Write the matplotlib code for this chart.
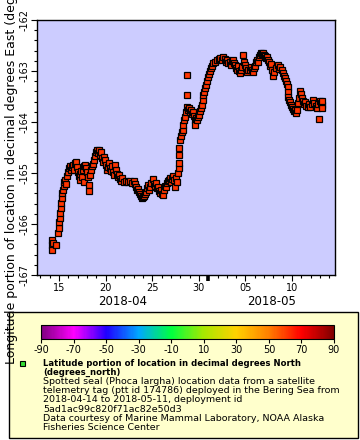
import numpy as np
import pandas as pd
import matplotlib
matplotlib.use('Agg')
import matplotlib.pyplot as plt
import matplotlib.dates as mdates
import matplotlib.transforms as mtransforms
from matplotlib.colors import LinearSegmentedColormap
from matplotlib.patches import Rectangle

plt.rcParams['font.family'] = ['DejaVu Sans']
plt.rcParams['axes.unicode_minus'] = False

# day of April 2018 (15.0 = 2018-04-15 00:00) and longitude (degrees_east)
days = [14.25, 14.25, 14.25, 14.36, 14.68, 14.89, 15.00, 15.00, 15.11, 15.11,
        15.21, 15.21, 15.32, 15.32, 15.43, 15.54, 15.54, 15.64, 15.75, 15.86,
        15.97, 16.07, 16.18, 16.29, 16.39, 16.50, 16.61, 16.72, 16.82, 16.93,
        17.04, 17.15, 17.25, 17.25, 17.36, 17.47, 17.58, 17.68, 17.68, 17.79,
        17.90, 18.00, 18.11, 18.22, 18.22, 18.33, 18.43, 18.54, 18.65, 18.76,
        18.86, 18.97, 19.08, 19.18, 19.29, 19.40, 19.51, 19.61, 19.72, 19.83,
        19.94, 20.04, 20.15, 20.26, 20.36, 20.47, 20.58, 20.69, 20.79, 20.90,
        21.01, 21.12, 21.22, 21.33, 21.44, 21.54, 21.65, 21.76, 21.97, 22.19,
        22.40, 22.62, 22.83, 23.05, 23.15, 23.26, 23.37, 23.48, 23.58, 23.69,
        23.80, 23.91, 24.01, 24.12, 24.23, 24.33, 24.44, 24.55, 24.66, 24.76,
        24.87, 25.09, 25.19, 25.30, 25.41, 25.52, 25.62, 25.73, 25.84, 25.94,
        26.05, 26.16, 26.27, 26.37, 26.48, 26.59, 26.70, 26.80, 26.91, 27.02,
        27.12, 27.23, 27.34, 27.45, 27.55, 27.66, 27.77, 27.88, 27.88, 27.88,
        27.88, 27.98, 28.09, 28.20, 28.30, 28.30, 28.41, 28.52, 28.63, 28.73,
        28.73, 28.73, 28.84, 28.95, 29.06, 29.16, 29.27, 29.38, 29.48, 29.59,
        29.59, 29.70, 29.81, 29.91, 30.02, 30.13, 30.24, 30.34, 30.45, 30.45,
        30.56, 30.67, 30.77, 30.88, 30.99, 31.09, 31.20, 31.31, 31.42, 31.52,
        31.74, 31.95, 32.17, 32.27, 32.49, 32.60, 32.81, 32.92, 33.03, 33.13,
        33.35, 33.45, 33.56, 33.67, 33.77, 33.88, 33.99, 34.10, 34.21, 34.31,
        34.42, 34.53, 34.64, 34.74, 34.85, 34.96, 35.06, 35.17, 35.28, 35.49,
        35.60, 35.71, 35.82, 35.92, 36.03, 36.14, 36.24, 36.35, 36.46, 36.57,
        36.67, 36.78, 36.89, 36.99, 37.10, 37.21, 37.32, 37.42, 37.53, 37.64,
        37.75, 37.85, 37.96, 38.07, 38.28, 38.50, 38.60, 38.71, 38.93, 39.03,
        39.14, 39.25, 39.36, 39.46, 39.57, 39.57, 39.57, 39.68, 39.79, 39.89,
        40.00, 40.11, 40.21, 40.32, 40.43, 40.54, 40.64, 40.75, 40.86, 40.97,
        41.07, 41.18, 41.29, 41.39, 41.50, 41.72, 41.82, 41.93, 42.15, 42.25,
        42.36, 42.57, 42.68, 42.79, 42.90, 43.00, 43.11, 43.22, 43.22, 43.22]

lons = [-166.31, -166.41, -166.51, -166.37, -166.41, -166.18, -166.08, -165.96, -165.88, -165.78,
        -165.69, -165.59, -165.49, -165.39, -165.33, -165.25, -165.18, -165.14, -165.22, -165.06,
        -164.98, -164.90, -164.86, -164.94, -164.88, -164.84, -164.94, -164.80, -164.78, -164.88,
        -164.98, -165.06, -165.14, -165.02, -164.96, -165.08, -164.94, -164.86, -165.18, -164.84,
        -164.90, -164.98, -165.08, -165.24, -165.35, -165.04, -164.94, -164.86, -164.82, -164.75,
        -164.67, -164.59, -164.55, -164.61, -164.55, -164.65, -164.59, -164.71, -164.78, -164.69,
        -164.75, -164.84, -164.94, -164.88, -164.80, -164.90, -164.96, -164.86, -164.98, -165.04,
        -164.84, -164.94, -165.02, -165.08, -165.04, -165.12, -165.16, -165.10, -165.18, -165.16,
        -165.18, -165.16, -165.20, -165.16, -165.22, -165.27, -165.33, -165.31, -165.37, -165.41,
        -165.45, -165.49, -165.47, -165.45, -165.41, -165.37, -165.29, -165.24, -165.33, -165.27,
        -165.20, -165.12, -165.22, -165.25, -165.20, -165.29, -165.27, -165.35, -165.39, -165.33,
        -165.41, -165.43, -165.33, -165.25, -165.27, -165.20, -165.16, -165.14, -165.10, -165.18,
        -165.12, -165.06, -165.14, -165.27, -165.10, -165.18, -165.00, -164.90, -164.80, -164.65,
        -164.51, -164.35, -164.27, -164.20, -164.16, -164.06, -163.96, -163.90, -163.80, -163.71,
        -163.08, -163.47, -163.76, -163.73, -163.80, -163.76, -163.84, -163.80, -163.88, -163.96,
        -164.06, -163.92, -163.96, -163.90, -163.86, -163.78, -163.73, -163.67, -163.57, -163.47,
        -163.41, -163.33, -163.27, -163.20, -163.12, -163.06, -163.00, -162.94, -162.90, -162.84,
        -162.82, -162.78, -162.76, -162.75, -162.78, -162.73, -162.76, -162.82, -162.78, -162.84,
        -162.82, -162.88, -162.80, -162.78, -162.84, -162.88, -162.94, -162.98, -162.90, -163.00,
        -163.04, -162.98, -162.92, -162.69, -162.82, -162.88, -162.94, -163.02, -162.98, -162.98,
        -162.92, -162.98, -163.02, -162.94, -162.90, -162.82, -162.78, -162.82, -162.73, -162.69,
        -162.65, -162.67, -162.65, -162.69, -162.71, -162.75, -162.73, -162.78, -162.82, -162.90,
        -162.86, -162.98, -163.10, -163.02, -162.94, -162.88, -162.96, -162.92, -162.98, -163.04,
        -163.10, -163.14, -163.20, -163.25, -163.31, -163.41, -163.51, -163.57, -163.61, -163.67,
        -163.71, -163.75, -163.78, -163.76, -163.82, -163.76, -163.63, -163.53, -163.39, -163.45,
        -163.53, -163.59, -163.65, -163.61, -163.69, -163.71, -163.65, -163.71, -163.65, -163.57,
        -163.63, -163.69, -163.73, -163.65, -163.94, -163.59, -163.63, -163.67, -163.73, -163.59]

seal_lat = 61.5  # marker colour comes from latitude on the colour bar

cbar_ticks = [-90, -70, -50, -30, -10, 10, 30, 50, 70, 90]
cmap_colors = ['#800080', '#ff00ff', '#2000ff', '#00a8ff', '#00ff40',
               '#a8e800', '#ffd200', '#ff8000', '#ff0000', '#800000']

legend_bold = ['Latitude portion of location in decimal degrees North',
               '(degrees_north)']
legend_lines = ['Spotted seal (Phoca largha) location data from a satellite',
                'telemetry tag (ptt id 174786) deployed in the Bering Sea from',
                '2018-04-14 to 2018-05-11, deployment id',
                '5ad1ac99c820f71ac82e50d3',
                'Data courtesy of Marine Mammal Laboratory, NOAA Alaska',
                'Fisheries Science Center']

W, H = 360, 440


def fx(x):
    return x / W


def fy(y):
    return 1 - y / H


cmap = LinearSegmentedColormap.from_list('rainbow2', cmap_colors)
norm = plt.Normalize(-90, 90)

times = pd.Timestamp('2018-04-01') + pd.to_timedelta(np.array(days) - 1, unit='D')

fig = plt.figure(figsize=(W / 100, H / 100), dpi=100)

# legend box, behind everything else
fig.patches.append(Rectangle((fx(9), fy(438)), fx(358) - fx(9), fy(312) - fy(438),
                             transform=fig.transFigure, facecolor='#ffffcc',
                             edgecolor='black', linewidth=1, zorder=-10))

ax = fig.add_axes([fx(37), fy(275), fx(335) - fx(37), fy(20) - fy(275)])
ax.set_facecolor('#ccccff')
ax.plot(times, lons, linestyle='none', marker='s', markersize=4.6,
        markerfacecolor=cmap(norm(seal_lat)), markeredgecolor='black',
        markeredgewidth=0.9)

x0 = pd.Timestamp('2018-04-12 15:20')
x1 = pd.Timestamp('2018-05-14 14:25')
ax.set_xlim(x0, x1)
ax.set_ylim(-167, -162)

ax.xaxis.set_major_locator(mdates.DayLocator(bymonthday=[5, 10, 15, 20, 25, 30]))
ax.xaxis.set_minor_locator(mdates.DayLocator())
ax.xaxis.set_major_formatter(mdates.DateFormatter('%d'))
ax.yaxis.set_major_locator(plt.MultipleLocator(1))
ax.yaxis.set_minor_locator(plt.MultipleLocator(0.2))
ax.yaxis.set_major_formatter(plt.FuncFormatter(lambda v, p: f'{v:.0f}'))
ax.tick_params(which='major', length=4, width=0.8, labelsize=7, pad=1.5)
ax.tick_params(which='minor', length=2, width=0.8)
for lab in ax.get_yticklabels():
    lab.set_rotation(90)
    lab.set_va('center')
for sp in ax.spines.values():
    sp.set_linewidth(1)

# month boundary tick
trans = mtransforms.blended_transform_factory(ax.transData, ax.transAxes)
may1 = mdates.date2num(pd.Timestamp('2018-05-01'))
ax.plot([may1, may1], [0, -0.024], transform=trans, color='black',
        linewidth=2.6, clip_on=False, solid_capstyle='butt')

# month labels, centred on the visible part of each month
n0, n1 = mdates.date2num(x0), mdates.date2num(x1)
ax.text((n0 + may1) / 2, -0.104, '2018-04', transform=trans, ha='center',
        va='center', fontsize=8.5)
ax.text((may1 + n1) / 2, -0.104, '2018-05', transform=trans, ha='center',
        va='center', fontsize=8.5)

fig.text(fx(12), fy(364), 'Longitude portion of location in decimal degrees East (degrees_east)',
         rotation=90, ha='center', va='bottom', fontsize=9)

# colour bar
cax = fig.add_axes([fx(41), fy(339), fx(334) - fx(41), fy(325) - fy(339)])
cb = fig.colorbar(plt.cm.ScalarMappable(norm=norm, cmap=cmap), cax=cax,
                  orientation='horizontal', ticks=cbar_ticks)
cb.outline.set_linewidth(0.8)
cax.tick_params(length=3, width=0.8, labelsize=7, pad=1.5)

# legend entry
fig.patches.append(Rectangle((fx(20), fy(366)), fx(25) - fx(20), fy(361) - fy(366),
                             transform=fig.transFigure, facecolor='#33dd33',
                             edgecolor='black', linewidth=0.8))
y = 363
for line in legend_bold:
    fig.text(fx(43), fy(y), line, fontsize=6.1, fontweight='bold', va='center')
    y += 9.2
for line in legend_lines:
    fig.text(fx(43), fy(y), line, fontsize=6.8, va='center')
    y += 9.2

fig.savefig('out.png', dpi=100)
